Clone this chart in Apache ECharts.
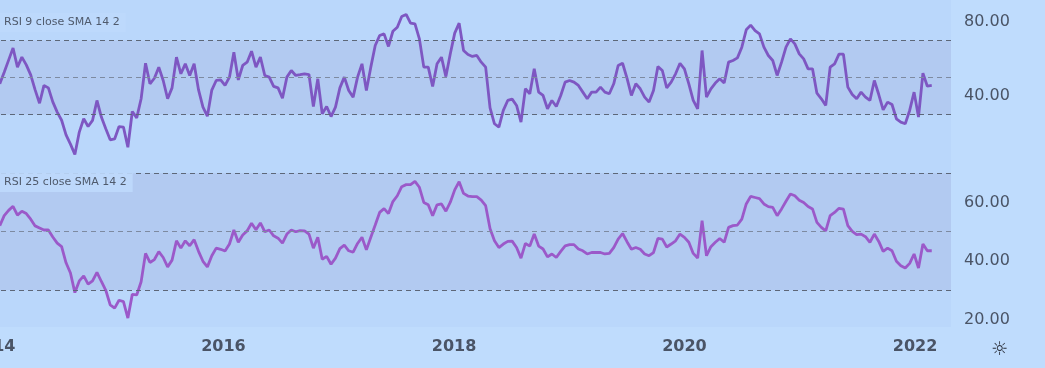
<!DOCTYPE html>
<html>
<head>
<meta charset="utf-8">
<title>RSI</title>
<script src="https://cdn.jsdelivr.net/npm/echarts@6/dist/echarts.min.js"></script>
<style>
html, body { margin: 0; padding: 0; background: #bfdcfd; }
#chart { width: 1045px; height: 368px; }
</style>
</head>
<body>
<div id="chart"></div>
<script>
// fortnightly samples, the first one on startDate
const startDate = '2014-01-22';
const stepDays = 14;

const rsi9 = [
  46.6, 52.9, 59.4, 65.9, 55.6, 61.0, 56.8, 51.4, 43.3, 36.1,
  45.7, 44.4, 36.8, 31.3, 26.9, 19.0, 14.0, 8.4, 20.5, 27.7,
  23.5, 26.8, 37.6, 28.6, 22.3, 16.3, 16.8, 23.5, 23.2, 12.3,
  31.6, 28.2, 38.5, 57.7, 46.6, 49.6, 55.6, 48.4, 38.5, 44.4,
  61.0, 52.0, 57.4, 51.1, 57.4, 43.3, 34.0, 29.1, 43.2, 48.4,
  48.7, 45.7, 50.2, 63.7, 48.7, 56.5, 58.3, 64.2, 55.6, 61.0,
  51.1, 50.2, 45.2, 44.4, 38.8, 50.2, 53.8, 51.1, 51.5, 52.0,
  51.6, 34.3, 49.3, 30.4, 34.3, 28.9, 34.0, 44.4, 50.2, 43.0,
  39.4, 50.2, 57.4, 43.0, 55.6, 67.3, 72.7, 73.6, 66.8, 75.0,
  77.2, 83.0, 84.1, 79.4, 79.0, 70.9, 55.6, 55.6, 45.2, 57.4,
  61.0, 50.5, 62.8, 74.0, 79.4, 64.6, 62.4, 61.4, 61.9, 58.3,
  55.6, 33.6, 25.0, 23.2, 32.2, 37.6, 38.3, 34.9, 25.9, 43.9,
  41.2, 54.7, 42.1, 40.3, 33.1, 37.6, 34.3, 40.3, 47.5, 48.4,
  47.5, 45.7, 42.1, 38.5, 42.1, 42.1, 44.8, 42.1, 41.2, 46.6,
  56.5, 57.7, 49.7, 40.3, 46.6, 43.9, 39.4, 36.7, 43.0, 55.9,
  53.8, 44.4, 47.5, 52.0, 57.7, 54.7, 46.6, 37.6, 33.1, 64.6,
  39.4, 43.9, 47.0, 49.3, 47.0, 58.3, 59.2, 60.6, 66.4, 75.8,
  78.3, 75.4, 73.6, 66.4, 61.9, 59.2, 51.1, 58.3, 66.4, 70.9,
  68.2, 62.8, 60.1, 54.7, 54.7, 41.5, 38.5, 34.9, 55.6, 57.4,
  62.6, 62.6, 44.8, 40.8, 38.5, 42.1, 39.4, 37.6, 48.4, 40.8,
  32.5, 36.7, 35.4, 27.7, 25.9, 25.0, 32.2, 42.1, 28.6, 52.3,
  45.3, 45.7
];

const rsi25 = [
  52.1, 55.5, 57.3, 58.7, 55.7, 57.0, 56.2, 54.3, 52.0, 51.3,
  50.6, 50.6, 48.2, 46.1, 44.9, 39.4, 35.9, 29.2, 33.2, 34.9,
  32.1, 33.2, 36.1, 33.0, 30.0, 25.0, 23.9, 26.6, 26.1, 20.5,
  28.6, 28.4, 32.9, 42.6, 39.5, 40.5, 43.2, 41.2, 38.0, 40.3,
  46.9, 44.4, 46.9, 45.2, 47.3, 43.3, 39.9, 38.0, 41.8, 44.4,
  44.0, 43.4, 45.8, 50.6, 46.4, 48.9, 50.3, 52.9, 50.7, 53.0,
  50.0, 50.6, 48.6, 47.8, 46.1, 49.2, 50.6, 50.0, 50.4, 50.3,
  49.2, 44.4, 48.1, 40.6, 41.6, 38.9, 41.0, 44.2, 45.4, 43.5,
  43.0, 46.0, 48.1, 43.8, 48.1, 52.3, 56.6, 57.9, 56.2, 60.3,
  62.3, 65.4, 66.1, 66.1, 67.2, 65.2, 60.0, 59.2, 55.5, 59.2,
  59.5, 57.0, 60.1, 64.3, 67.1, 63.1, 62.2, 62.0, 62.0, 60.8,
  58.9, 51.0, 46.9, 44.6, 45.8, 46.7, 46.8, 44.6, 41.0, 46.0,
  45.1, 49.2, 45.1, 44.1, 41.4, 42.4, 41.2, 43.3, 45.2, 45.6,
  45.6, 44.1, 43.5, 42.4, 42.9, 42.9, 42.9, 42.4, 42.6, 44.6,
  47.5, 49.4, 46.6, 44.0, 44.6, 44.0, 42.4, 41.8, 42.9, 47.7,
  47.5, 44.8, 45.8, 46.9, 49.2, 48.1, 46.4, 42.6, 41.0, 53.8,
  41.8, 44.9, 46.4, 47.7, 46.4, 51.5, 52.1, 52.3, 54.3, 59.5,
  62.1, 61.7, 61.3, 59.5, 58.6, 58.3, 55.5, 57.8, 60.4, 62.9,
  62.3, 60.8, 60.0, 58.6, 57.8, 53.2, 51.5, 50.3, 55.5, 56.6,
  58.0, 57.7, 52.1, 50.1, 49.0, 49.2, 48.3, 46.4, 49.2, 46.7,
  43.3, 44.4, 43.5, 39.9, 38.4, 37.6, 39.2, 42.4, 37.6, 45.8,
  43.5, 43.5
];

const yearTicks = ['2014-01-01', '2016-01-01', '2018-01-01', '2020-01-01', '2022-01-01'];
const rsi9Ticks = [40, 80];
const rsi25Ticks = [20, 40, 60];
const bandLow = 30, bandMid = 50, bandHigh = 70;
const xMin = '2013-01-20', xMax = '2022-04-25';

const DAY = 86400000;
const t0 = Date.parse(startDate);
const times = rsi9.map((_, i) => t0 + i * stepDays * DAY);

const textColor = '#4a5466';
const paneColor = '#bad7fb';
const bandColor = '#b2caf1';

function markers() {
  return {
    markArea: {
      silent: true,
      itemStyle: { color: bandColor },
      data: [[{ yAxis: bandLow }, { yAxis: bandHigh }]]
    },
    markLine: {
      silent: true,
      symbol: 'none',
      label: { show: false },
      lineStyle: { color: '#5d6778', type: [5, 4], width: 1 },
      data: [
        { yAxis: bandHigh },
        { yAxis: bandMid, lineStyle: { color: '#7d8aa0', type: [5, 4], width: 1 } },
        { yAxis: bandLow }
      ]
    }
  };
}

// x is kept in ms on a value axis so the year labels can sit on Jan 1
function xAx(idx, labels) {
  return {
    type: 'value', gridIndex: idx,
    min: Date.parse(xMin), max: Date.parse(xMax),
    axisLine: { show: false }, axisTick: { show: false }, splitLine: { show: false },
    axisLabel: labels ? {
      show: true,
      customValues: yearTicks.map(d => Date.parse(d)),
      formatter: v => String(new Date(v).getUTCFullYear()),
      color: textColor, fontSize: 16, fontWeight: 'bold',
      fontFamily: 'DejaVu Sans', margin: 12
    } : { show: false }
  };
}

function yAx(idx, min, max, ticks) {
  return {
    type: 'value', gridIndex: idx, position: 'right',
    min: min, max: max,
    axisLine: { show: false }, axisTick: { show: false }, splitLine: { show: false },
    axisLabel: {
      customValues: ticks,
      formatter: v => v.toFixed(2),
      color: textColor, fontSize: 16, fontFamily: 'DejaVu Sans', margin: 13
    }
  };
}

const chart = echarts.init(document.getElementById('chart'));
chart.setOption({
  animation: false,
  backgroundColor: '#bfdcfd',
  title: [
    {
      text: 'RSI 9 close SMA 14 2', left: 0, top: 13,
      padding: [4, 6, 4, 4], backgroundColor: 'rgba(190,217,252,0.9)',
      textStyle: { fontSize: 11, fontWeight: 'normal', color: '#4f5a6c', fontFamily: 'DejaVu Sans' }
    },
    {
      text: 'RSI 25 close SMA 14 2', left: 0, top: 173,
      padding: [4, 6, 4, 4], backgroundColor: 'rgba(190,217,252,0.9)',
      textStyle: { fontSize: 11, fontWeight: 'normal', color: '#4f5a6c', fontFamily: 'DejaVu Sans' }
    }
  ],
  grid: [
    { left: -116, right: 94, top: 0, height: 170, show: true, backgroundColor: paneColor, borderWidth: 0, outerBoundsMode: 'none' },
    { left: -116, right: 94, top: 170, height: 157, show: true, backgroundColor: paneColor, borderWidth: 0, outerBoundsMode: 'none' }
  ],
  xAxis: [xAx(0, false), xAx(1, true)],
  yAxis: [yAx(0, 0, 91.9, rsi9Ticks), yAx(1, 17.45, 71.1, rsi25Ticks)],
  series: [
    Object.assign({
      name: 'RSI 9', type: 'line', xAxisIndex: 0, yAxisIndex: 0,
      symbol: 'none', lineStyle: { color: '#7e57c2', width: 2.8 },
      data: times.map((t, i) => [t, rsi9[i]])
    }, markers()),
    Object.assign({
      name: 'RSI 25', type: 'line', xAxisIndex: 1, yAxisIndex: 1,
      symbol: 'none', lineStyle: { color: '#9b59c9', width: 2.8 },
      data: times.map((t, i) => [t, rsi25[i]])
    }, markers())
  ],
  graphic: [
    { type: 'text', left: 991, top: 341, style: { text: '\u263C', fontSize: 19, fill: '#2a2e39', fontFamily: 'DejaVu Sans' } }
  ]
});
</script>
</body>
</html>
